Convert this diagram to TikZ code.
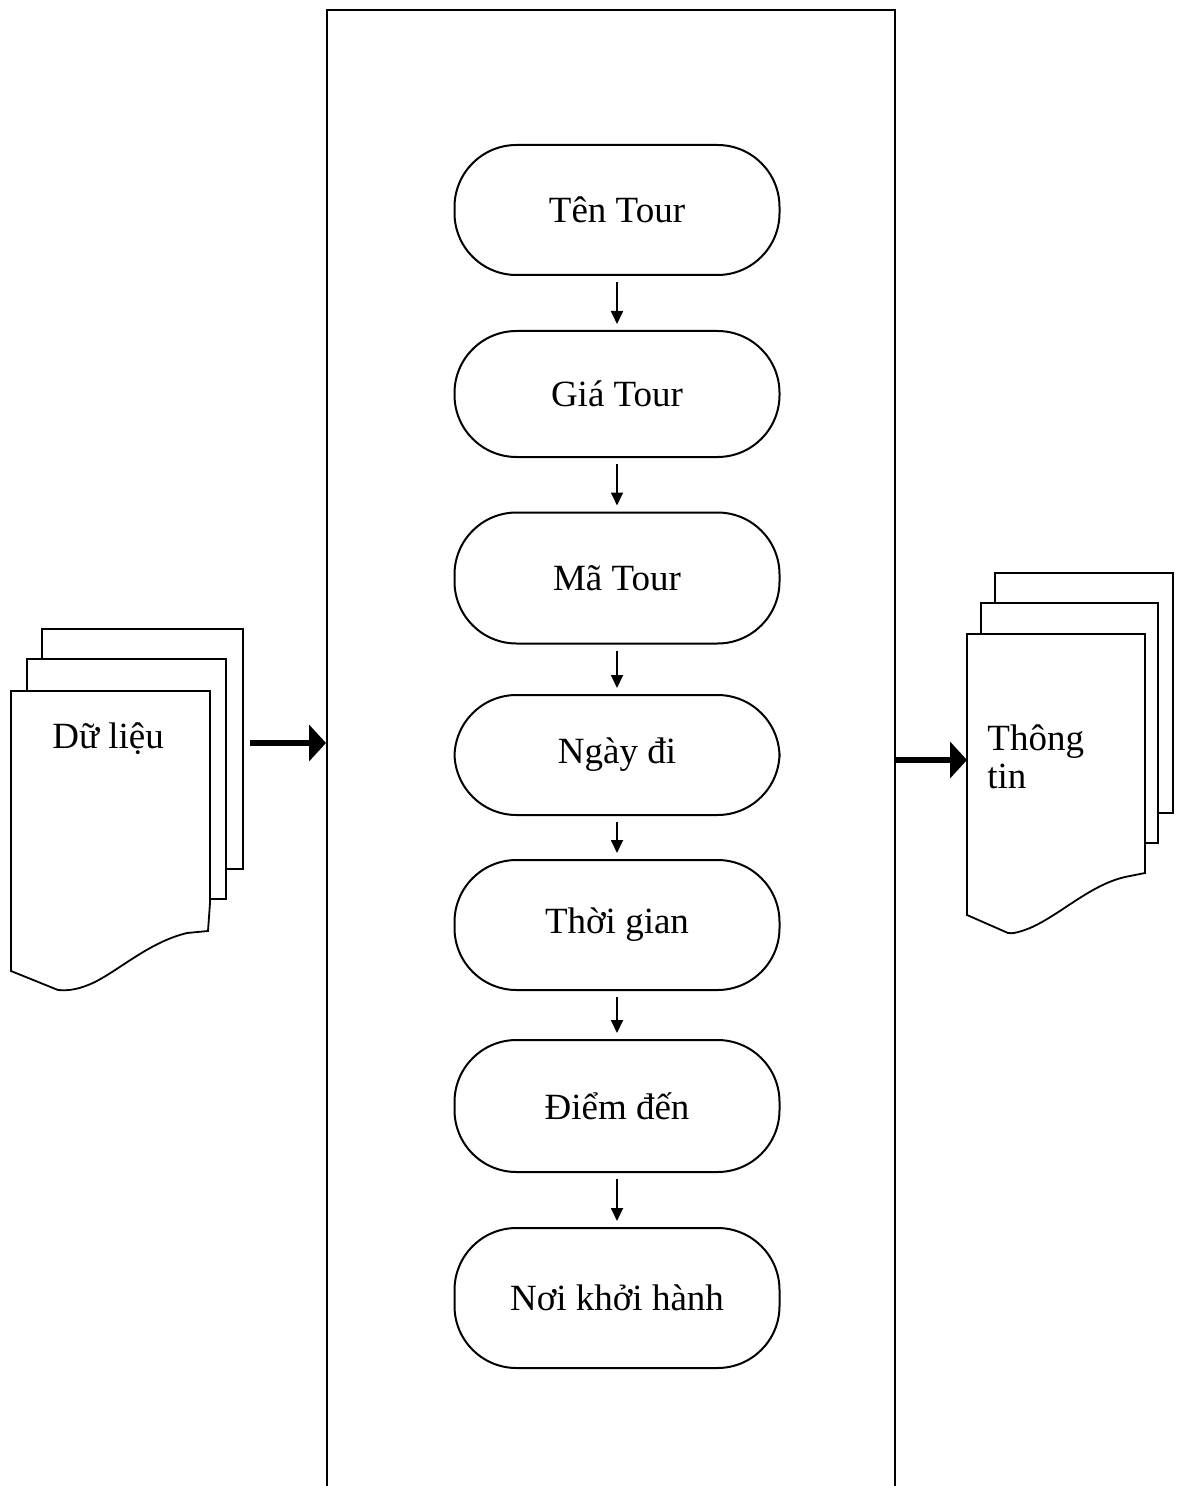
\documentclass[tikz,border=0pt]{standalone}
\usepackage{fontspec}
\setmainfont{Liberation Serif}
\usetikzlibrary{arrows.meta}

\begin{document}
\begin{tikzpicture}[x=0.5pt, y=-0.5pt,
    font=\fontsize{18.5}{19}\selectfont,
    stepbox/.style={draw, line width=1pt, rounded corners=31pt,
      minimum width=162.5pt, inner sep=0pt},
    sheet/.style={draw, fill=white, line width=0.9pt},
    flow/.style={line width=0.9pt, -{Triangle[length=6.5pt, width=6pt]},
      shorten <=3pt, shorten >=3pt},
    bigflow/.style={line width=2.6pt, -{Triangle[length=8.5pt, width=18pt]}}]
  \clip (0,0) rectangle (1176,1486);

  % frame of the process, open at the bottom
  \node (process) [draw, line width=1pt, minimum width=284pt, minimum height=800pt,
    anchor=north west, inner sep=0pt] at (326,9) {};

  % steps
  \foreach \y/\h/\name/\txt in {210/65/ten/Tên Tour, 394/63/gia/Giá Tour,
      578/65.5/ma/Mã Tour, 755/60/ngay/Ngày đi, 925/65/tg/Thời gian,
      1106/66/diem/Điểm đến, 1298/70/noi/Nơi khởi hành}
    \node (\name) [stepbox, minimum height=\h pt] at (617,\y) {\txt};
  \foreach \a/\b in {ten/gia, gia/ma, ma/ngay, ngay/tg, tg/diem, diem/noi}
    \draw [flow] (\a) -- (\b);

  % input documents
  \foreach \dx/\dy/\w in {42/629/243, 27/659/226}
    \draw [sheet] (\dx,\dy) -- (\w,\dy) -- (\w,\dy+240) -- (\w-16,\dy+240) -- (\dx,\dy+240) -- cycle;
  \draw [sheet] (11,691) -- (210,691) -- (210,903) -- (208,931) -- (187,933)
    .. controls (150,942) and (122,968) .. (95,982)
    .. controls (80,989) and (70,991) .. (58,990) -- (11,971) -- cycle;
  \node (duLieu) [anchor=base west, inner sep=0pt] at (52,748) {Dữ liệu};

  % output documents
  \foreach \dx/\dy/\w in {995/573/1173, 981/603/1158}
    \draw [sheet] (\dx,\dy) -- (\w,\dy) -- (\w,\dy+240) -- (\w-14,\dy+240) -- (\dx,\dy+240) -- cycle;
  \draw [sheet] (967,634) -- (1145,634) -- (1145,873) -- (1125,877)
    .. controls (1090,885) and (1060,915) .. (1030,928)
    .. controls (1020,932) and (1012,934) .. (1008,933) -- (967,915) -- cycle;
  \node (thongTin) [anchor=base west, inner sep=0pt, align=left] at (987,788) {Thông\\tin};

  % data flow in and out
  \coordinate (inL) at (250,743);
  \coordinate (outR) at (967,760);
  \draw [bigflow] (inL) -- (process.west |- inL);
  \draw [bigflow] (process.east |- outR) -- (outR);
\end{tikzpicture}
\end{document}
